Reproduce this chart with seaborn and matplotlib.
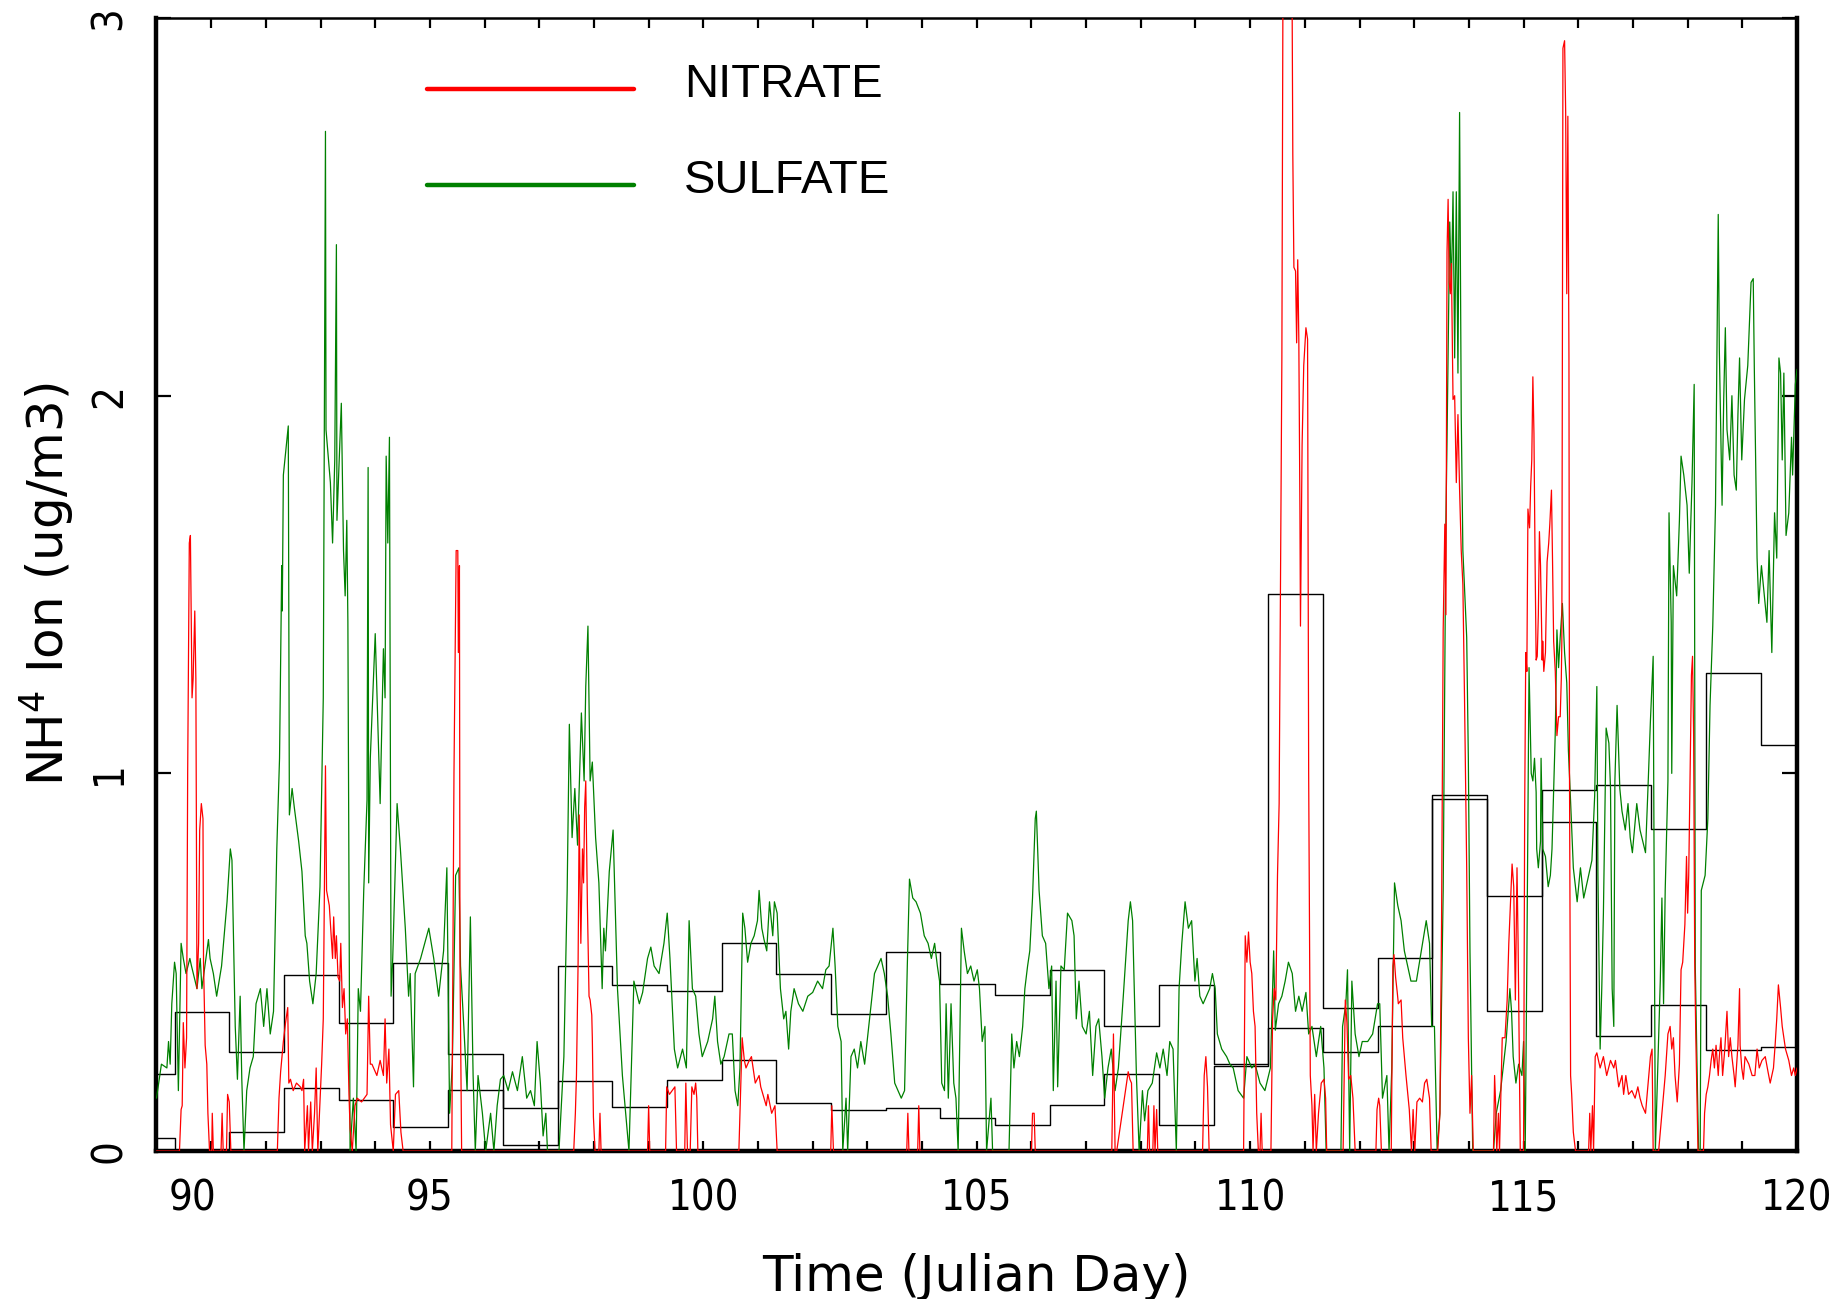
import matplotlib
matplotlib.use("Agg")
import matplotlib.pyplot as plt
import matplotlib.transforms as mtransforms
import seaborn as sns
import pandas as pd
import numpy as np
from matplotlib.ticker import MultipleLocator, FixedLocator

# ---------------- data ----------------
sulfate_day = [
    90.00, 90.09, 90.19, 90.22, 90.25, 90.28, 90.33, 90.36, 90.40, 90.45, 90.49, 90.54, 90.61, 90.64, 90.74,
    90.80, 90.83, 90.95, 90.98, 91.04, 91.10, 91.19, 91.29, 91.35, 91.38, 91.44, 91.48, 91.53, 91.56, 91.60,
    91.65, 91.71, 91.77, 91.82, 91.90, 91.96, 92.02, 92.08, 92.14, 92.20, 92.25, 92.29, 92.30, 92.32, 92.41,
    92.43, 92.48, 92.52, 92.60, 92.66, 92.72, 92.75, 92.80, 92.86, 92.92, 92.99, 93.05, 93.09, 93.10, 93.18,
    93.22, 93.26, 93.29, 93.30, 93.38, 93.42, 93.45, 93.48, 93.50, 93.54, 93.60, 93.65, 93.69, 93.73, 93.79,
    93.85, 93.87, 93.88, 93.91, 94.00, 94.09, 94.15, 94.18, 94.20, 94.23, 94.26, 94.29, 94.32, 94.40, 94.46,
    94.55, 94.61, 94.64, 94.70, 94.73, 94.83, 94.98, 95.07, 95.16, 95.25, 95.31, 95.36, 95.41, 95.47, 95.53,
    95.56, 95.62, 95.68, 95.74, 95.79, 95.83, 95.88, 95.96, 96.02, 96.11, 96.17, 96.23, 96.29, 96.35, 96.43,
    96.51, 96.60, 96.69, 96.77, 96.84, 96.91, 96.96, 97.02, 97.07, 97.12, 97.15, 97.36, 97.45, 97.51, 97.55,
    97.60, 97.65, 97.70, 97.77, 97.82, 97.85, 97.89, 97.93, 97.97, 98.03, 98.09, 98.15, 98.18, 98.21, 98.28,
    98.35, 98.43, 98.52, 98.64, 98.73, 98.83, 98.89, 98.98, 99.04, 99.10, 99.19, 99.28, 99.34, 99.39, 99.47,
    99.53, 99.62, 99.69, 99.74, 99.80, 99.86, 99.92, 99.98, 100.08, 100.17, 100.21, 100.26, 100.32, 100.38,
    100.47, 100.53, 100.58, 100.63, 100.67, 100.72, 100.76, 100.81, 100.87, 100.93, 100.99, 101.02, 101.07,
    101.11, 101.16, 101.21, 101.27, 101.30, 101.35, 101.41, 101.47, 101.51, 101.56, 101.60, 101.66, 101.74,
    101.82, 101.91, 102.00, 102.09, 102.18, 102.24, 102.30, 102.37, 102.41, 102.46, 102.52, 102.55, 102.61,
    102.64, 102.70, 102.76, 102.82, 102.88, 102.95, 103.01, 103.07, 103.13, 103.19, 103.25, 103.31, 103.37,
    103.43, 103.50, 103.56, 103.62, 103.68, 103.73, 103.77, 103.83, 103.89, 103.97, 104.04, 104.11, 104.17,
    104.23, 104.28, 104.32, 104.36, 104.41, 104.44, 104.48, 104.53, 104.58, 104.62, 104.66, 104.72, 104.77,
    104.83, 104.89, 104.95, 105.01, 105.05, 105.10, 105.15, 105.18, 105.26, 105.29, 105.59, 105.64, 105.68,
    105.73, 105.78, 105.84, 105.88, 105.93, 105.97, 106.02, 106.07, 106.09, 106.14, 106.20, 106.26, 106.32,
    106.37, 106.40, 106.45, 106.48, 106.54, 106.60, 106.66, 106.74, 106.78, 106.82, 106.87, 106.93, 107.00,
    107.06, 107.12, 107.18, 107.23, 107.29, 107.34, 107.40, 107.46, 107.53, 107.59, 107.68, 107.77, 107.81,
    107.85, 107.92, 107.97, 108.03, 108.07, 108.13, 108.21, 108.29, 108.35, 108.41, 108.48, 108.53, 108.59,
    108.65, 108.70, 108.75, 108.81, 108.87, 108.93, 108.99, 109.03, 109.08, 109.14, 109.20, 109.26, 109.31,
    109.36, 109.40, 109.48, 109.57, 109.63, 109.69, 109.78, 109.88, 109.94, 110.03, 110.09, 110.18, 110.27,
    110.37, 110.43, 110.46, 110.52, 110.58, 110.64, 110.70, 110.77, 110.83, 110.89, 110.95, 111.02, 111.07,
    111.13, 111.21, 111.29, 111.35, 111.39, 111.66, 111.69, 111.75, 111.78, 111.82, 111.86, 111.92, 111.99,
    112.05, 112.15, 112.24, 112.33, 112.37, 112.42, 112.50, 112.54, 112.59, 112.64, 112.70, 112.76, 112.82,
    112.88, 112.94, 113.04, 113.13, 113.22, 113.28, 113.32, 113.37, 113.42, 113.47, 113.53, 113.58, 113.60,
    113.65, 113.68, 113.71, 113.74, 113.77, 113.80, 113.83, 113.86, 113.89, 113.96, 113.99, 114.02, 114.07,
    114.45, 114.50, 114.58, 114.68, 114.75, 114.78, 114.81, 114.86, 114.91, 114.97, 115.00, 115.03, 115.06,
    115.10, 115.14, 115.17, 115.20, 115.23, 115.24, 115.27, 115.31, 115.32, 115.35, 115.40, 115.45, 115.49,
    115.52, 115.55, 115.58, 115.61, 115.64, 115.67, 115.71, 115.75, 115.79, 115.82, 115.85, 115.91, 115.98,
    116.04, 116.10, 116.19, 116.25, 116.30, 116.34, 116.36, 116.40, 116.43, 116.46, 116.51, 116.56, 116.59,
    116.62, 116.65, 116.67, 116.71, 116.76, 116.80, 116.86, 116.91, 116.95, 116.99, 117.07, 117.13, 117.23,
    117.28, 117.32, 117.37, 117.41, 117.50, 117.53, 117.56, 117.59, 117.64, 117.66, 117.70, 117.71, 117.74,
    117.80, 117.85, 117.88, 117.93, 117.99, 118.03, 118.08, 118.12, 118.14, 118.20, 118.23, 118.25, 118.32,
    118.37, 118.41, 118.46, 118.51, 118.54, 118.56, 118.58, 118.60, 118.63, 118.66, 118.69, 118.72, 118.77,
    118.81, 118.85, 118.89, 118.92, 118.95, 118.99, 119.04, 119.10, 119.16, 119.20, 119.22, 119.27, 119.30,
    119.35, 119.39, 119.45, 119.49, 119.54, 119.59, 119.63, 119.67, 119.70, 119.73, 119.76, 119.80, 119.85,
    119.90, 119.92, 119.97, 120.00,
]
sulfate_val = [
    0.14, 0.23, 0.22, 0.29, 0.23, 0.39, 0.50, 0.47, 0.16, 0.55, 0.51, 0.47, 0.51, 0.49, 0.43,
    0.51, 0.43, 0.56, 0.51, 0.47, 0.41, 0.49, 0.66, 0.80, 0.77, 0.33, 0.19, 0.41, 0.19, 0.00,
    0.16, 0.22, 0.25, 0.39, 0.43, 0.33, 0.43, 0.31, 0.37, 0.80, 1.04, 1.55, 1.43, 1.79, 1.92,
    0.89, 0.96, 0.91, 0.82, 0.74, 0.57, 0.55, 0.45, 0.39, 0.47, 0.70, 1.20, 2.70, 1.91, 1.77,
    1.61, 1.83, 2.40, 1.67, 1.98, 1.59, 1.47, 1.67, 1.40, 0.00, 0.14, 0.00, 0.43, 0.37, 0.69,
    0.93, 1.81, 0.71, 1.04, 1.37, 0.92, 1.33, 1.20, 1.84, 1.61, 1.89, 0.41, 0.51, 0.92, 0.80,
    0.59, 0.41, 0.47, 0.17, 0.47, 0.51, 0.59, 0.51, 0.41, 0.53, 0.75, 0.10, 0.23, 0.73, 0.75,
    0.49, 0.33, 0.16, 0.62, 0.20, 0.00, 0.20, 0.10, 0.00, 0.10, 0.00, 0.12, 0.19, 0.20, 0.16,
    0.21, 0.16, 0.25, 0.14, 0.16, 0.12, 0.29, 0.18, 0.04, 0.10, 0.00, 0.00, 0.25, 0.69, 1.13,
    0.83, 0.96, 0.81, 1.16, 0.98, 1.23, 1.39, 0.98, 1.03, 0.83, 0.71, 0.43, 0.59, 0.53, 0.74,
    0.85, 0.43, 0.20, 0.00, 0.45, 0.39, 0.42, 0.51, 0.54, 0.49, 0.47, 0.55, 0.63, 0.51, 0.27,
    0.22, 0.27, 0.22, 0.61, 0.43, 0.41, 0.31, 0.25, 0.29, 0.35, 0.41, 0.29, 0.23, 0.25,
    0.31, 0.31, 0.16, 0.12, 0.22, 0.63, 0.59, 0.50, 0.55, 0.57, 0.61, 0.69, 0.59,
    0.56, 0.53, 0.66, 0.57, 0.66, 0.63, 0.43, 0.35, 0.37, 0.27, 0.37, 0.43, 0.39,
    0.37, 0.41, 0.42, 0.45, 0.43, 0.48, 0.49, 0.59, 0.49, 0.33, 0.29, 0.00, 0.14,
    0.00, 0.25, 0.27, 0.22, 0.29, 0.23, 0.31, 0.39, 0.47, 0.49, 0.51, 0.47, 0.41,
    0.31, 0.18, 0.16, 0.14, 0.16, 0.49, 0.72, 0.67, 0.66, 0.63, 0.57, 0.55, 0.51,
    0.55, 0.49, 0.45, 0.18, 0.16, 0.39, 0.14, 0.39, 0.18, 0.14, 0.00, 0.59, 0.53,
    0.47, 0.49, 0.45, 0.48, 0.43, 0.29, 0.33, 0.00, 0.14, 0.00, 0.00, 0.31, 0.22,
    0.29, 0.25, 0.33, 0.43, 0.49, 0.53, 0.67, 0.88, 0.90, 0.69, 0.57, 0.55, 0.43,
    0.49, 0.16, 0.45, 0.17, 0.49, 0.48, 0.63, 0.61, 0.57, 0.35, 0.45, 0.33, 0.31,
    0.37, 0.20, 0.33, 0.35, 0.25, 0.14, 0.22, 0.27, 0.16, 0.22, 0.41, 0.61, 0.66,
    0.61, 0.20, 0.00, 0.16, 0.08, 0.16, 0.18, 0.26, 0.22, 0.27, 0.20, 0.29, 0.27,
    0.00, 0.43, 0.55, 0.66, 0.59, 0.61, 0.45, 0.51, 0.41, 0.39, 0.41, 0.43, 0.47,
    0.43, 0.31, 0.27, 0.25, 0.23, 0.22, 0.16, 0.14, 0.25, 0.22, 0.23, 0.18, 0.16,
    0.22, 0.53, 0.32, 0.39, 0.41, 0.45, 0.50, 0.47, 0.37, 0.41, 0.37, 0.42, 0.31,
    0.33, 0.25, 0.33, 0.22, 0.00, 0.00, 0.33, 0.39, 0.48, 0.00, 0.45, 0.31, 0.25,
    0.29, 0.29, 0.31, 0.39, 0.39, 0.14, 0.20, 0.00, 0.22, 0.71, 0.65, 0.61, 0.53,
    0.49, 0.45, 0.45, 0.53, 0.61, 0.55, 0.33, 0.33, 0.00, 0.10, 0.69, 1.67, 1.88,
    2.46, 2.28, 2.54, 2.10, 2.54, 2.06, 2.75, 1.95, 1.59, 1.36, 1.04, 0.53, 0.00,
    0.00, 0.10, 0.16, 0.29, 0.43, 0.37, 0.25, 0.18, 0.23, 0.20, 0.29, 0.00, 0.50,
    1.28, 1.00, 0.98, 1.04, 0.95, 0.80, 0.75, 0.82, 1.04, 0.80, 0.78, 0.70, 0.73,
    0.80, 0.95, 1.11, 1.38, 1.28, 1.36, 1.45, 1.32, 1.24, 1.06, 0.96, 0.75, 0.66,
    0.75, 0.67, 0.73, 0.77, 0.94, 1.23, 0.73, 0.27, 0.43, 0.63, 1.12, 1.08, 0.96,
    0.43, 0.33, 0.98, 1.18, 0.96, 0.90, 0.85, 0.92, 0.83, 0.79, 0.92, 0.85, 0.79,
    0.98, 1.14, 1.31, 0.00, 0.45, 0.67, 0.39, 0.69, 0.98, 1.69, 1.40, 1.00, 1.55,
    1.47, 1.67, 1.84, 1.79, 1.71, 1.53, 1.77, 2.03, 0.49, 0.00, 0.00, 0.69, 0.73,
    0.88, 1.18, 1.39, 1.71, 2.18, 2.48, 2.12, 1.95, 1.71, 1.99, 2.18, 1.91, 1.83,
    2.00, 1.79, 1.75, 1.95, 2.10, 1.83, 1.99, 2.08, 2.30, 2.31, 2.07, 1.57, 1.45,
    1.55, 1.49, 1.40, 1.59, 1.32, 1.69, 1.57, 2.10, 2.06, 1.83, 2.06, 1.63, 1.69,
    1.89, 1.79, 2.03, 2.07,
]

nitrate_day = [
    90.00, 90.42, 90.45, 90.47, 90.49, 90.52, 90.55, 90.57, 90.60, 90.62, 90.65, 90.67, 90.70, 90.72, 90.74,
    90.77, 90.79, 90.82, 90.85, 90.86, 90.89, 90.92, 90.94, 90.97, 91.01, 91.02, 91.04, 91.18, 91.20, 91.22,
    91.28, 91.30, 91.33, 91.36, 92.21, 92.24, 92.27, 92.32, 92.36, 92.40, 92.42, 92.45, 92.50, 92.56, 92.63,
    92.66, 92.69, 92.71, 92.76, 92.78, 92.82, 92.85, 92.89, 92.92, 92.95, 93.02, 93.05, 93.09, 93.11, 93.16,
    93.19, 93.22, 93.24, 93.27, 93.29, 93.32, 93.35, 93.37, 93.40, 93.43, 93.46, 93.49, 93.52, 93.54, 93.58,
    93.63, 93.67, 93.75, 93.85, 93.88, 93.91, 93.94, 94.03, 94.09, 94.15, 94.18, 94.21, 94.25, 94.28, 94.33,
    94.37, 94.43, 94.47, 94.51, 95.40, 95.44, 95.48, 95.51, 95.52, 95.54, 95.55, 95.58, 97.63, 97.66, 97.68,
    97.71, 97.73, 97.76, 97.79, 97.81, 97.83, 97.85, 97.88, 97.91, 97.93, 97.96, 97.97, 97.99, 98.02, 98.09,
    98.11, 98.13, 98.98, 99.00, 99.02, 99.31, 99.33, 99.38, 99.43, 99.48, 99.51, 99.66, 99.68, 99.71, 99.76,
    99.79, 99.83, 99.86, 99.88, 99.90, 100.65, 100.68, 100.71, 100.75, 100.78, 100.84, 100.88, 100.95, 101.02,
    101.05, 101.15, 101.18, 101.25, 101.31, 101.35, 102.33, 102.35, 102.38, 103.72, 103.74, 103.76, 103.92,
    103.94, 103.96, 106.00, 106.02, 106.05, 106.07, 107.47, 107.50, 107.53, 107.56, 107.77, 107.80, 107.83,
    107.86, 108.12, 108.14, 108.16, 108.22, 108.24, 108.26, 108.29, 108.31, 109.13, 109.16, 109.19, 109.22,
    109.25, 109.88, 109.91, 109.94, 109.97, 110.00, 110.03, 110.06, 110.09, 110.12, 110.15, 110.18, 110.20,
    110.22, 110.38, 110.41, 110.44, 110.47, 110.50, 110.53, 110.55, 110.58, 110.61, 110.75, 110.78, 110.80,
    110.83, 110.85, 110.87, 110.89, 110.91, 110.92, 110.95, 110.98, 111.02, 111.05, 111.07, 111.10, 111.13,
    111.15, 111.18, 111.21, 111.25, 111.30, 111.35, 111.38, 111.40, 111.70, 111.74, 111.77, 111.80, 111.84,
    111.88, 111.92, 112.30, 112.32, 112.35, 112.37, 112.40, 112.58, 112.61, 112.63, 112.66, 112.69, 112.71,
    112.76, 112.79, 112.85, 112.91, 112.95, 112.98, 113.01, 113.05, 113.10, 113.15, 113.19, 113.23, 113.28,
    113.31, 113.43, 113.47, 113.50, 113.53, 113.56, 113.58, 113.60, 113.62, 113.64, 113.66, 113.68, 113.71,
    113.74, 113.77, 113.80, 113.83, 113.86, 113.89, 113.92, 113.96, 113.99, 114.02, 114.05, 114.08, 114.45,
    114.47, 114.49, 114.51, 114.54, 114.56, 114.61, 114.66, 114.70, 114.73, 114.79, 114.82, 114.85, 114.88,
    114.90, 114.94, 115.00, 115.02, 115.04, 115.06, 115.08, 115.11, 115.13, 115.15, 115.17, 115.19, 115.21,
    115.23, 115.25, 115.27, 115.29, 115.31, 115.34, 115.35, 115.37, 115.40, 115.43, 115.46, 115.48, 115.51,
    115.53, 115.55, 115.58, 115.61, 115.64, 115.67, 115.69, 115.70, 115.72, 115.75, 115.77, 115.79, 115.81,
    115.83, 115.84, 115.86, 115.88, 115.91, 115.95, 116.19, 116.21, 116.23, 116.26, 116.28, 116.31, 116.34,
    116.40, 116.46, 116.52, 116.59, 116.65, 116.68, 116.74, 116.80, 116.83, 116.87, 116.92, 116.98, 117.04,
    117.09, 117.13, 117.17, 117.23, 117.29, 117.32, 117.35, 117.37, 117.47, 117.50, 117.54, 117.59, 117.64,
    117.68, 117.71, 117.74, 117.77, 117.81, 117.85, 117.88, 117.91, 117.95, 117.98, 118.00, 118.02, 118.05,
    118.07, 118.09, 118.11, 118.13, 118.15, 118.17, 118.19, 118.29, 118.31, 118.34, 118.37, 118.40, 118.43,
    118.46, 118.49, 118.52, 118.56, 118.58, 118.61, 118.64, 118.68, 118.72, 118.75, 118.78, 118.81, 118.85,
    118.87, 118.92, 118.95, 118.96, 118.99, 119.02, 119.05, 119.12, 119.18, 119.23, 119.27, 119.31, 119.36,
    119.42, 119.47, 119.51, 119.57, 119.60, 119.63, 119.66, 119.70, 119.73, 119.79, 119.85, 119.90, 119.94,
    119.97, 120.00,
]
nitrate_val = [
    0.00, 0.00, 0.11, 0.12, 0.34, 0.22, 0.30, 1.00, 1.61, 1.63, 1.20, 1.25, 1.43, 1.25, 0.43,
    0.55, 0.85, 0.92, 0.88, 0.50, 0.28, 0.23, 0.10, 0.00, 0.00, 0.10, 0.00, 0.00, 0.10, 0.00,
    0.00, 0.15, 0.13, 0.00, 0.00, 0.14, 0.21, 0.29, 0.34, 0.38, 0.18, 0.19, 0.16, 0.18, 0.17,
    0.16, 0.19, 0.00, 0.12, 0.00, 0.13, 0.00, 0.10, 0.22, 0.00, 0.23, 0.35, 1.02, 0.69, 0.65,
    0.58, 0.51, 0.62, 0.51, 0.57, 0.46, 0.45, 0.55, 0.38, 0.43, 0.31, 0.35, 0.15, 0.06, 0.00,
    0.12, 0.14, 0.13, 0.15, 0.41, 0.23, 0.23, 0.20, 0.24, 0.20, 0.35, 0.18, 0.27, 0.07, 0.00,
    0.15, 0.16, 0.05, 0.00, 0.00, 1.00, 1.59, 1.59, 1.32, 1.55, 0.50, 0.00, 0.00, 0.10, 0.20,
    0.50, 0.89, 0.55, 0.80, 0.71, 0.91, 0.98, 0.65, 0.41, 0.40, 0.36, 0.30, 0.09, 0.00, 0.00,
    0.10, 0.00, 0.00, 0.12, 0.00, 0.00, 0.17, 0.15, 0.16, 0.17, 0.00, 0.00, 0.18, 0.00, 0.00,
    0.17, 0.15, 0.18, 0.14, 0.00, 0.00, 0.15, 0.30, 0.24, 0.22, 0.24, 0.25, 0.18, 0.20,
    0.17, 0.12, 0.15, 0.10, 0.12, 0.00, 0.00, 0.12, 0.00, 0.00, 0.10, 0.00, 0.00,
    0.12, 0.00, 0.00, 0.10, 0.10, 0.00, 0.00, 0.31, 0.00, 0.00, 0.21, 0.19, 0.18,
    0.00, 0.00, 0.12, 0.00, 0.00, 0.12, 0.00, 0.11, 0.00, 0.00, 0.20, 0.25, 0.17,
    0.00, 0.00, 0.57, 0.50, 0.58, 0.50, 0.47, 0.37, 0.33, 0.10, 0.00, 0.00, 0.10,
    0.00, 0.00, 0.35, 0.43, 0.40, 0.73, 0.92, 1.38, 2.10, 3.60, 3.60, 2.64, 2.34,
    2.33, 2.14, 2.36, 2.15, 1.70, 1.39, 1.87, 2.08, 2.18, 2.15, 1.00, 0.20, 0.12,
    0.00, 0.15, 0.00, 0.10, 0.18, 0.19, 0.14, 0.00, 0.00, 0.40, 0.34, 0.19, 0.20,
    0.14, 0.00, 0.00, 0.11, 0.14, 0.12, 0.00, 0.00, 0.49, 0.52, 0.46, 0.42, 0.39,
    0.40, 0.30, 0.20, 0.11, 0.00, 0.11, 0.00, 0.13, 0.14, 0.13, 0.18, 0.19, 0.14,
    0.00, 0.00, 0.10, 0.60, 1.38, 1.66, 1.42, 2.38, 2.52, 2.30, 2.27, 2.35, 1.99,
    2.00, 1.77, 1.95, 1.75, 1.59, 1.50, 1.20, 0.75, 0.30, 0.10, 0.20, 0.00, 0.00,
    0.20, 0.12, 0.00, 0.10, 0.00, 0.30, 0.30, 0.40, 0.55, 0.76, 0.70, 0.40, 0.75,
    0.55, 0.00, 0.00, 0.90, 1.32, 1.27, 1.70, 1.65, 1.76, 1.83, 2.05, 1.90, 1.57,
    1.30, 1.31, 1.42, 1.64, 1.55, 1.30, 1.35, 1.27, 1.32, 1.56, 1.61, 1.66, 1.75,
    1.56, 1.35, 1.27, 1.10, 1.15, 1.15, 1.25, 1.35, 2.92, 2.94, 2.75, 2.27, 2.74,
    2.10, 1.00, 0.20, 0.15, 0.05, 0.00, 0.00, 0.10, 0.00, 0.12, 0.00, 0.25, 0.26,
    0.22, 0.25, 0.20, 0.24, 0.22, 0.24, 0.17, 0.20, 0.15, 0.20, 0.15, 0.16, 0.14,
    0.17, 0.14, 0.12, 0.10, 0.20, 0.25, 0.27, 0.00, 0.00, 0.05, 0.12, 0.20, 0.31,
    0.33, 0.27, 0.30, 0.20, 0.13, 0.23, 0.48, 0.50, 0.60, 0.78, 0.63, 0.73, 1.05,
    1.26, 1.31, 1.10, 0.50, 0.30, 0.15, 0.00, 0.00, 0.10, 0.15, 0.17, 0.20, 0.24,
    0.27, 0.22, 0.28, 0.20, 0.25, 0.30, 0.20, 0.27, 0.37, 0.25, 0.30, 0.25, 0.20,
    0.17, 0.28, 0.43, 0.28, 0.22, 0.19, 0.25, 0.23, 0.20, 0.20, 0.27, 0.22, 0.24,
    0.25, 0.21, 0.18, 0.22, 0.28, 0.35, 0.44, 0.38, 0.33, 0.27, 0.24, 0.20, 0.22,
    0.20, 0.22,
]

# daily-average steps (edges at n + 1/3 day)
step_edges = [90.0] + [d + 1.0 / 3.0 for d in range(90, 120)] + [120.0]
step_upper = [0.205, 0.368, 0.263, 0.465, 0.340, 0.498, 0.258, 0.113, 0.490, 0.440, 0.424, 0.550, 0.468,
              0.364, 0.526, 0.441, 0.413, 0.480, 0.331, 0.440, 0.231, 1.474, 0.380, 0.510, 0.943, 0.675,
              0.955, 0.969, 0.854, 1.266, 1.075]
step_lower = [0.035, 0.000, 0.051, 0.167, 0.135, 0.064, 0.161, 0.016, 0.186, 0.117, 0.188, 0.241, 0.127,
              0.108, 0.115, 0.088, 0.070, 0.121, 0.203, 0.070, 0.226, 0.327, 0.262, 0.331, 0.931, 0.372,
              0.870, 0.305, 0.386, 0.268, 0.276]

x_major = [90, 95, 100, 105, 110, 115, 120]
y_major = [0, 1, 2, 3]

# ---------------- style ----------------
sns.set_style("white")
plt.rcParams["font.family"] = ["DejaVu Sans"]
plt.rcParams["font.stretch"] = "condensed"
plt.rcParams["mathtext.default"] = "regular"
for key in ("text.color", "axes.labelcolor", "xtick.color", "ytick.color", "axes.edgecolor"):
    plt.rcParams[key] = "black"

fig = plt.figure(figsize=(18.42, 12.99), dpi=100)
ax = fig.add_axes([0.08496, 0.1139, 0.8906, 0.8722])

df_s = pd.DataFrame({"day": sulfate_day, "val": sulfate_val})
df_n = pd.DataFrame({"day": nitrate_day, "val": nitrate_val})
df_up = pd.DataFrame({"day": step_edges, "val": step_upper + [step_upper[-1]]})
df_lo = pd.DataFrame({"day": step_edges, "val": step_lower + [step_lower[-1]]})

for d in (df_up, df_lo):
    sns.lineplot(data=d, x="day", y="val", ax=ax, color="black", linewidth=1.0,
                 drawstyle="steps-post", estimator=None, sort=False, legend=False, zorder=2)
sns.lineplot(data=df_s, x="day", y="val", ax=ax, color="#008000", linewidth=0.9,
             estimator=None, sort=False, label="SULFATE", zorder=3)
sns.lineplot(data=df_n, x="day", y="val", ax=ax, color="#ff0000", linewidth=0.9,
             estimator=None, sort=False, label="NITRATE", zorder=4)

ax.set_xlim(90, 120)
ax.set_ylim(0, 3)
ax.xaxis.set_major_locator(FixedLocator(x_major))
ax.xaxis.set_minor_locator(MultipleLocator(1))
ax.yaxis.set_major_locator(FixedLocator(y_major))
ax.set_xticklabels([str(v) for v in x_major])
ax.set_yticklabels([str(v) for v in y_major])

ax.tick_params(axis="x", which="both", direction="in", top=True, bottom=True,
               length=7.5, width=1.6, labelsize=30, pad=19, colors="black")
ax.tick_params(axis="y", which="both", direction="in", left=True, right=True,
               length=11, width=1.6, labelsize=30, pad=19, labelrotation=90, colors="black")
for lab in ax.get_yticklabels():
    lab.set_verticalalignment("center")

# first x label sits just right of the axis corner, as in the reference
first = ax.get_xticklabels()[0]
first.set_horizontalalignment("left")
first.set_transform(first.get_transform() + mtransforms.ScaledTranslation(0.12, 0, fig.dpi_scale_trans))

for side in ("left", "bottom", "right"):
    ax.spines[side].set_linewidth(3.2)
ax.spines["top"].set_linewidth(1.8)
for sp in ax.spines.values():
    sp.set_color("black")
    sp.set_visible(True)

ax.set_xlabel("Time (Julian Day)", fontsize=36, labelpad=24, color="black", fontstretch="normal")
ax.set_ylabel("NH$^4$ Ion (ug/m3)", fontsize=36, labelpad=8, color="black", fontstretch="normal")

handles, labels = ax.get_legend_handles_labels()
order = [labels.index("NITRATE"), labels.index("SULFATE")]
leg = ax.legend([handles[i] for i in order], [labels[i] for i in order],
                loc="upper left", bbox_to_anchor=(403 / 1842, 1 - 48 / 1299),
                bbox_transform=fig.transFigure, frameon=False, borderpad=0,
                handlelength=4.4, handletextpad=1.05, labelspacing=1.1,
                prop={"family": ["Liberation Sans", "DejaVu Sans"], "size": 34, "stretch": "normal"})
for txt in leg.get_texts():
    txt.set_color("black")
    txt.set_y(9)
for ln in leg.get_lines():
    ln.set_linewidth(3.2)

fig.savefig("out.png", dpi=100)
